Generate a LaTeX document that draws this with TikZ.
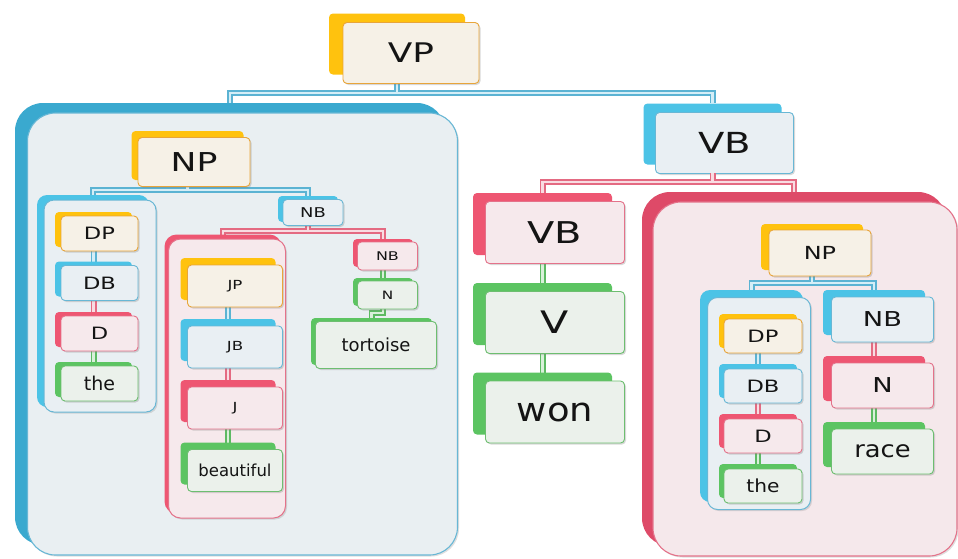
\documentclass[tikz,border=0pt]{standalone}
\usepackage{fontspec}
\setmainfont{DejaVu Sans}
\newfontfamily\capfont[FakeStretch=1.33]{DejaVu Sans}
\newfontfamily\lowfont[FakeStretch=1.12]{DejaVu Sans}
\usetikzlibrary{calc,shadows}
\newcommand\fc[1]{\capfont\fontsize{#1}{#1}\selectfont}
\newcommand\fl[1]{\lowfont\fontsize{#1}{#1}\selectfont}
\newcommand\fn[1]{\fontsize{#1}{#1}\selectfont}
\definecolor{goldS}{HTML}{FFC20E}
\definecolor{goldB}{HTML}{E8A53A}
\definecolor{goldF}{HTML}{F6F1E7}
\definecolor{bluS}{HTML}{4CC3E6}
\definecolor{bluB}{HTML}{68B7D5}
\definecolor{bluF}{HTML}{E9EFF3}
\definecolor{redS}{HTML}{EE5672}
\definecolor{redB}{HTML}{E4728A}
\definecolor{redF}{HTML}{F6E9EC}
\definecolor{grnS}{HTML}{5CC462}
\definecolor{grnB}{HTML}{6DBE70}
\definecolor{grnF}{HTML}{EBF1EB}
\definecolor{lpS}{HTML}{3AA9CF}
\definecolor{lpF}{HTML}{E9EFF2}
\definecolor{rpS}{HTML}{DE4A68}
\definecolor{rpF}{HTML}{F5E8EB}
\definecolor{bluC}{HTML}{5BB3D3}
\definecolor{bluI}{HTML}{D5EEF7}
\definecolor{redC}{HTML}{E46A82}
\definecolor{redI}{HTML}{F8DCE2}
\definecolor{grnC}{HTML}{5DBA63}
\definecolor{grnI}{HTML}{D9F0DA}
\tikzset{
  shbox/.style={rectangle, rounded corners=4pt, fill=#1S, draw=none, inner sep=0pt},
  frbox/.style={rectangle, rounded corners=4pt, fill=#1F, draw=#1B, line width=0.9pt,
    inner sep=0pt, text=black!92,
    drop shadow={shadow xshift=1.5pt, shadow yshift=-1.5pt, opacity=0.3}},
  pbase/.style={rectangle, inner sep=0pt},
}
\newcommand\elem[9]{%
  \node[shbox=#2, minimum width=#5, minimum height=#6] (#1) at (#3,#4) {};
  \node[frbox=#2, minimum width=#5, minimum height=#6, font=#8] (#1f) at ($(#1)+(#7)$) {#9};}
\newcommand\panel[8]{%
  \node[pbase, minimum width=#6, minimum height=#7, #2] (#1) at (#4,#5) {};
  \node[pbase, minimum width=#6, minimum height=#7, #3,
    drop shadow={shadow xshift=1.5pt, shadow yshift=-1.5pt, opacity=0.25}] (#1f) at ($(#1)+(#8)$) {};}
\newcommand\dconn[2]{%
  \draw[line width=6pt, #1C] #2;
  \draw[line width=2.6pt, #1I] #2;}
\begin{document}
\begin{tikzpicture}[x=1pt, y=-1pt]
\useasboundingbox (0,0) rectangle (958,558);
\fill[white] (0,0) rectangle (958,558);
\coordinate (b0) at (0,93);
\coordinate (b1) at (0,190);
\coordinate (b2) at (0,231);
\coordinate (b3) at (0,313);
\coordinate (b4) at (0,182);
\coordinate (b5) at (0,283);
% ---------- level 1 ----------
\path (397,44) coordinate (vpc) (230,324) coordinate (lpc) (712.5,134) coordinate (vbtc);
\dconn{blu}{(vpc |- b0) ++(0,-10) -- (vpc |- b0) (lpc |- b0) ++(0,10) -- (lpc |- b0) -- (vbtc |- b0) -- ++(0,10)}
\elem{vp}{gold}{397}{44}{136}{61}{14,9}{\fc{27}}{VP}
\panel{lp}{fill=lpS, rounded corners=28}{fill=lpF, draw=bluB, line width=1.1pt, rounded corners=28}{230}{324}{430}{442}{12.5,10}
\elem{vbt}{blu}{712.5}{134}{138}{61}{12,9}{\fc{29}}{VB}
% ---------- level 2 connectors ----------
\path (187.5,155.5) coordinate (npc) (93,301) coordinate (lcc) (308,209) coordinate (nb1c)
      (223,374) coordinate (jpc) (383,253) coordinate (nb2c) (383,292) coordinate (n2c)
      (371.5,341.5) coordinate (torc) (542.5,224) coordinate (vbrc) (542.5,314) coordinate (vc)
      (542.5,403.5) coordinate (wonc) (794,369) coordinate (rpc);
\dconn{blu}{(npc |- b1) ++(0,-4) -- (npc |- b1) (lcc |- b1) ++(0,6) -- (lcc |- b1) -- (nb1c |- b1) -- ++(0,7)}
\dconn{red}{(nb1c |- b2) ++(0,-6) -- (nb1c |- b2) (jpc |- b2) ++(0,5) -- (jpc |- b2) -- (nb2c |- b2) -- ++(0,9)}
\dconn{grn}{(nb2c) -- (n2c)}
\dconn{grn}{(n2c) -- (n2c |- b3) -| (torc)}
\dconn{red}{(vbtc |- b4) ++(0,-9) -- (vbtc |- b4) (vbrc |- b4) ++(0,12) -- (vbrc |- b4) -- (rpc |- b4) -- ++(0,11)}
\dconn{grn}{(vbrc) -- (wonc)}
% ---------- level 2 nodes ----------
\elem{np}{gold}{187.5}{155.5}{112}{49}{6.5,6.5}{\fc{26}}{NP}
\panel{lc}{fill=bluS, rounded corners=10}{fill=bluF, draw=bluB, line width=1pt, rounded corners=10}{93}{301}{112}{212}{7,5}
\elem{nb1}{blu}{308}{209}{60}{26}{5,3.5}{\fc{13.5}}{NB}
\panel{jpan}{fill=redS, rounded corners=12}{fill=redF, draw=redB, line width=1pt, rounded corners=12}{223}{374}{117}{279}{4,4.5}
\elem{nb2}{red}{383}{253}{60}{28}{4.5,3}{\fc{12}}{NB}
\elem{n2}{grn}{383}{292}{60}{28}{4.5,3}{\fc{11.5}}{N}
\elem{tor}{grn}{371.5}{341.5}{121}{47}{4.5,3.5}{\fn{18}}{tortoise}
\elem{vbr}{red}{542.5}{224}{139}{62}{12.5,8.5}{\fc{30}}{VB}
\elem{v}{grn}{542.5}{314}{139}{62}{12.5,8.5}{\fc{31}}{V}
\elem{won}{grn}{542.5}{403.5}{139}{62}{12.5,8.5}{\fl{33}}{won}
\panel{rp}{fill=rpS, rounded corners=28}{fill=rpF, draw=redB, line width=1.1pt, rounded corners=28}{794}{369}{304}{354}{11,10}
% ---------- level 3 connectors ----------
\path (93.5,229.5) coordinate (dp1c) (93.5,279) coordinate (db1c) (93.5,329.5) coordinate (d1c) (93.5,379.5) coordinate (the1c)
      (228,279) coordinate (jpnc) (228,340) coordinate (jbc) (228,401) coordinate (jc) (228,463.5) coordinate (beac)
      (812,247) coordinate (np2c) (751.5,396) coordinate (rcc) (874,312.5) coordinate (nb3c) (874,378.5) coordinate (n3c) (874,444.5) coordinate (racec);
\dconn{blu}{(dp1c) -- (db1c)}
\dconn{red}{(db1c) -- (d1c)}
\dconn{grn}{(d1c) -- (the1c)}
\dconn{blu}{(jpnc) -- (jbc)}
\dconn{red}{(jbc) -- (jc)}
\dconn{grn}{(jc) -- (beac)}
\dconn{blu}{(np2c |- b5) ++(0,-7) -- (np2c |- b5) (rcc |- b5) ++(0,7) -- (rcc |- b5) -- (nb3c |- b5) -- ++(0,7)}
\dconn{red}{(nb3c) -- (n3c)}
\dconn{grn}{(n3c) -- (racec)}
% ---------- level 3 nodes ----------
\elem{dp1}{gold}{93.5}{229.5}{77}{35}{6,4}{\fc{17}}{DP}
\elem{db1}{blu}{93.5}{279}{77}{35}{6,4}{\fc{17}}{DB}
\elem{d1}{red}{93.5}{329.5}{77}{35}{6,4}{\fc{17}}{D}
\elem{the1}{grn}{93.5}{379.5}{77}{35}{6,4}{\fn{19}}{the}
\elem{jp}{gold}{228}{279}{95}{42}{7,7}{\fc{12.5}}{JP}
\elem{jb}{blu}{228}{340}{95}{42}{7,7}{\fc{12.5}}{JB}
\elem{j}{red}{228}{401}{95}{42}{7,7}{\fc{12.5}}{J}
\elem{bea}{grn}{228}{463.5}{95}{42}{7,7}{\fn{16.5}}{beautiful}
\elem{np2}{gold}{812}{247}{102}{46}{8,6}{\fc{18}}{NP}
\panel{rc}{fill=bluS, rounded corners=10}{fill=bluF, draw=bluB, line width=1pt, rounded corners=10}{751.5}{396}{103}{212}{7.5,7.5}
\elem{nb3}{blu}{874}{312.5}{102}{45}{8.5,7}{\fc{20.5}}{NB}
\elem{n3}{red}{874}{378.5}{102}{45}{8.5,7}{\fc{20.5}}{N}
\elem{race}{grn}{874}{444.5}{102}{45}{8.5,7}{\fl{23}}{race}
% ---------- level 4 ----------
\path (758,331) coordinate (dp2c) (758,381) coordinate (db2c) (758,431) coordinate (d2c) (758,481) coordinate (the2c);
\dconn{blu}{(dp2c) -- (db2c)}
\dconn{red}{(db2c) -- (d2c)}
\dconn{grn}{(d2c) -- (the2c)}
\elem{dp2}{gold}{758}{331}{78}{34}{5,5}{\fc{17}}{DP}
\elem{db2}{blu}{758}{381}{78}{34}{5,5}{\fc{17}}{DB}
\elem{d2}{red}{758}{431}{78}{34}{5,5}{\fc{17}}{D}
\elem{the2}{grn}{758}{481}{78}{34}{5,5}{\fl{18}}{the}
\end{tikzpicture}
\end{document}
